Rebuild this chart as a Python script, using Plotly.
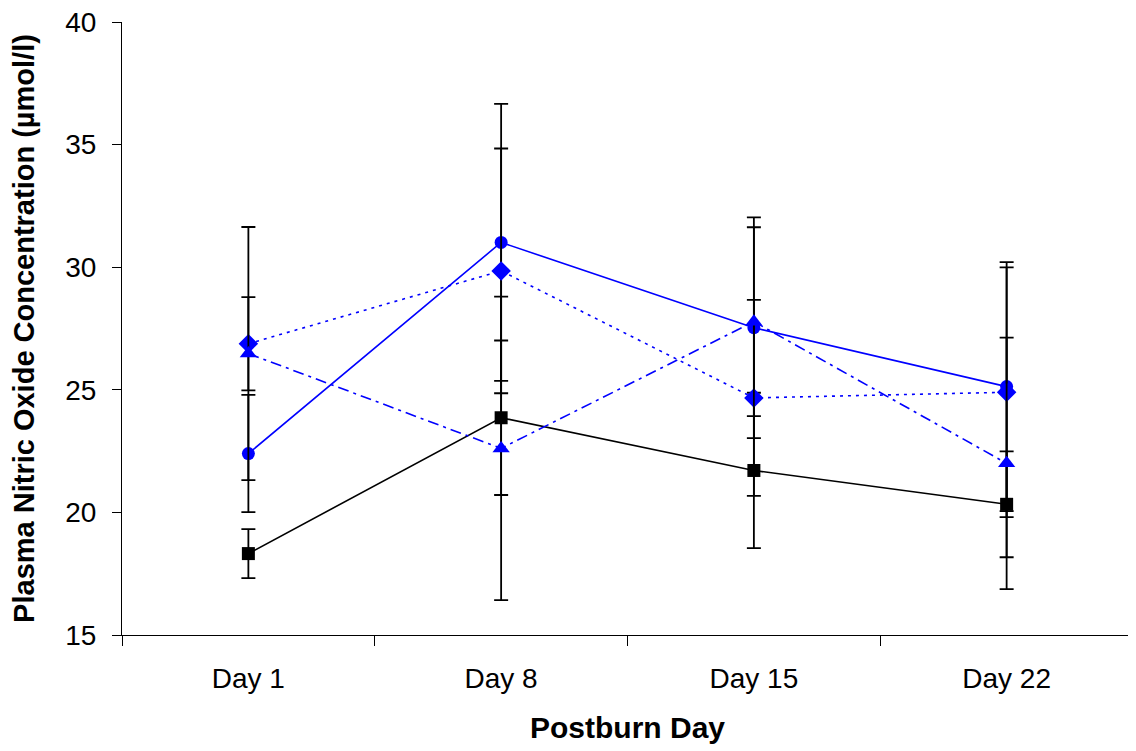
import plotly.graph_objects as go

days = ["Day 1", "Day 8", "Day 15", "Day 22"]

sq_vals = [18.32, 23.86, 21.71, 20.33]
sq_err = [1.0, 3.15, 3.17, 2.16]

ci_vals = [22.40, 31.01, 27.53, 25.13]
ci_err = [2.39, 5.65, 4.5, 5.08]

di_vals = [26.88, 29.85, 24.67, 24.90]
di_err = [1.9, 4.99, 4.0, 5.09]

tr_vals = [26.48, 22.61, 27.78, 22.00]
tr_err = [5.16, 6.19, 3.85, 5.13]

series = [
    (sq_vals, sq_err, "black", "solid", "square", 13),
    (ci_vals, ci_err, "#0000FF", "solid", "circle", 13),
    (di_vals, di_err, "#0000FF", "3px,5px", "diamond", 15),
    (tr_vals, tr_err, "#0000FF", "11px,5px,3px,5px", "triangle-up", 15),
]

fig = go.Figure()
for vals, err, color, dash, sym, size in series:
    fig.add_trace(go.Scatter(
        x=days, y=vals, mode="lines+markers",
        line=dict(color=color, width=1.6, dash=dash),
        marker=dict(symbol=sym, size=size, color=color, line=dict(width=0)),
        error_y=dict(type="data", array=err, visible=True, color="black",
                     thickness=1.8, width=7),
        showlegend=False,
    ))

# page body adds an 8px margin, so the figure is sized/offset to compensate
fig.update_layout(
    width=1128, height=743,
    margin=dict(l=114, r=3, t=14, b=116),
    plot_bgcolor="white", paper_bgcolor="white",
    font=dict(family="Liberation Sans, Arial, sans-serif", color="black"),
)
fig.update_xaxes(
    type="category", range=[-0.5, 3.5], automargin=False,
    showline=True, linecolor="black", linewidth=1,
    ticks="outside", tickson="boundaries", ticklen=10, tickcolor="black",
    tickfont=dict(size=28), ticklabelstandoff=18,
    showgrid=False, zeroline=False,
    title=dict(text="<b>Postburn Day</b>", font=dict(size=30), standoff=24),
)
fig.update_yaxes(
    range=[15, 40], dtick=5, automargin=False,
    showline=True, linecolor="black", linewidth=1,
    ticks="outside", ticklen=9, tickcolor="black",
    tickfont=dict(size=28), ticklabelstandoff=10,
    ticklabeloverflow="allow",
    showgrid=False, zeroline=False,
    title=dict(text="<b>Plasma Nitric Oxide Concentration (µmol/l)</b>",
               font=dict(size=29), standoff=22),
)
fig.write_html("out.html")
